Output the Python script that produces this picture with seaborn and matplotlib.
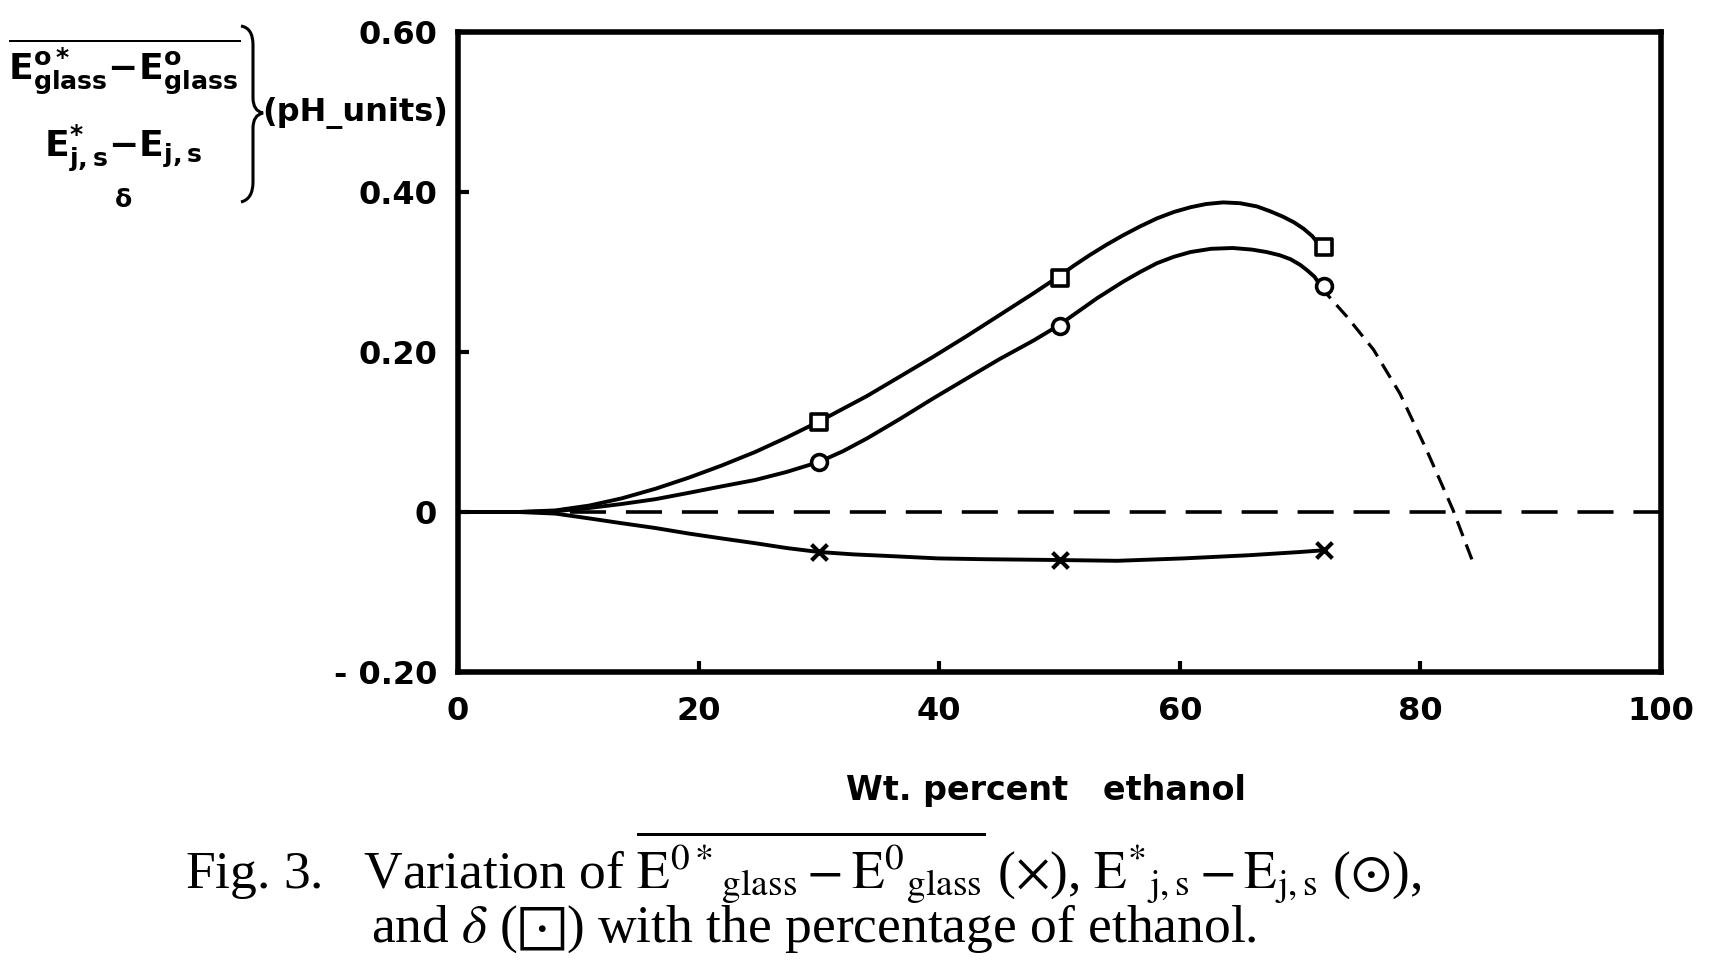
import matplotlib
matplotlib.use("Agg")
import matplotlib.pyplot as plt
import seaborn as sns
from matplotlib.path import Path
from matplotlib.patches import PathPatch

# ---------------- data ----------------
wt_points = [30, 50, 72]
delta_pts = [0.113, 0.292, 0.331]
ejs_pts = [0.062, 0.232, 0.282]
eglass_pts = [-0.050, -0.060, -0.048]

delta_curve_x = [0, 5, 8.1, 10.9, 13.6, 16.4, 19.2, 21.9, 24.7, 27.3, 30, 32, 34, 36.7,
                 39.5, 42.3, 45, 47.8, 49.8, 51.2, 52.5, 53.9, 55.3, 56.7, 58.1, 59.5,
                 60.9, 62.2, 63.6, 65.0, 66.4, 67.5, 68.6, 69.5, 70.3, 71.0, 71.65]
delta_curve_y = [0, 0, 0.002, 0.008, 0.017, 0.029, 0.043, 0.058, 0.075, 0.093, 0.113,
                 0.129, 0.145, 0.169, 0.194, 0.220, 0.246, 0.273, 0.293, 0.308, 0.321,
                 0.334, 0.346, 0.357, 0.367, 0.375, 0.381, 0.385, 0.387, 0.386, 0.382,
                 0.376, 0.369, 0.362, 0.354, 0.345, 0.333]
ejs_curve_x = [0, 5, 8.1, 10.9, 13.6, 16.4, 19.2, 21.9, 24.7, 27.3, 30, 32, 34, 36.7,
               39.5, 42.3, 45, 47.8, 49.8, 51.5, 53.1, 55.3, 56.7, 58.1, 59.5, 60.9,
               62.6, 64.4, 66.0, 67.2, 68.3, 69.2, 70.0, 70.6, 71.2, 71.65]
ejs_curve_y = [0, 0, 0.001, 0.005, 0.010, 0.016, 0.024, 0.032, 0.040, 0.050, 0.0625,
               0.076, 0.092, 0.116, 0.142, 0.167, 0.191, 0.214, 0.232, 0.250, 0.267,
               0.288, 0.300, 0.311, 0.319, 0.325, 0.329, 0.330, 0.328, 0.325, 0.321,
               0.316, 0.309, 0.302, 0.294, 0.284]
ejs_ext_x = [71.65, 73.9, 76.1, 78.3, 80.5, 82.7, 84.5]
ejs_ext_y = [0.282, 0.244, 0.203, 0.148, 0.078, 0.003, -0.068]
eglass_curve_x = [0, 5, 8.1, 10.9, 13.6, 16.4, 19.2, 21.9, 24.7, 27.3, 30, 32.9, 35.8,
                  39.9, 43.7, 49.8, 54.8, 60.3, 65.8, 70.0, 71.8]
eglass_curve_y = [0, 0, -0.002, -0.008, -0.014, -0.020, -0.027, -0.033, -0.039,
                  -0.045, -0.050, -0.053, -0.055, -0.058, -0.059, -0.060, -0.061,
                  -0.058, -0.054, -0.050, -0.048]
zero_x = [0, 100]
zero_y = [0, 0]

x_ticks = [0, 20, 40, 60, 80, 100]
x_ticklabels = ["0", "20", "40", "60", "80", "100"]
y_ticks = [-0.2, 0, 0.2, 0.4, 0.6]
y_ticklabels = ["- 0.20", "0", "0.20", "0.40", "0.60"]

# ---------------- figure ----------------
sns.set_style("ticks")
plt.rcParams["font.family"] = ["DejaVu Sans"]

W, H = 1710, 966
fig = plt.figure(figsize=(W / 100, H / 100), dpi=100)
ax = fig.add_axes([458 / W, 1 - 672 / H, (1661 - 458) / W, (672 - 32) / H])

LW = 2.8
sns.lineplot(x=zero_x, y=zero_y, ax=ax, color="black", lw=2.6,
             linestyle=(0, (10, 5.5)), estimator=None, sort=False, zorder=2)
sns.lineplot(x=delta_curve_x, y=delta_curve_y, ax=ax, color="black", lw=LW,
             estimator=None, sort=False, zorder=3)
sns.lineplot(x=ejs_curve_x, y=ejs_curve_y, ax=ax, color="black", lw=LW,
             estimator=None, sort=False, zorder=3)
sns.lineplot(x=ejs_ext_x, y=ejs_ext_y, ax=ax, color="black", lw=2.3,
             linestyle=(0, (5, 2.8)), estimator=None, sort=False, zorder=3)
sns.lineplot(x=eglass_curve_x, y=eglass_curve_y, ax=ax, color="black", lw=LW,
             estimator=None, sort=False, zorder=3)

sns.scatterplot(x=wt_points, y=delta_pts, ax=ax, marker="s", s=120,
                facecolor="white", edgecolor="black", linewidth=2.6, zorder=5)
sns.scatterplot(x=wt_points, y=ejs_pts, ax=ax, marker="o", s=130,
                facecolor="white", edgecolor="black", linewidth=2.6, zorder=5)
sns.scatterplot(x=wt_points, y=eglass_pts, ax=ax, marker="x", s=130,
                color="black", linewidth=3.0, zorder=5)

ax.set_xlim(0, 100)
ax.set_ylim(-0.2, 0.6)
ax.set_xticks(x_ticks)
ax.set_xticklabels(x_ticklabels, fontweight="bold")
ax.set_yticks(y_ticks)
ax.set_yticklabels(y_ticklabels, fontweight="bold")
for sp in ax.spines.values():
    sp.set_linewidth(4)
    sp.set_color("black")
ax.tick_params(axis="both", direction="in", length=8, width=3, labelsize=23,
               top=False, right=False, colors="black")
ax.tick_params(axis="x", pad=17)
ax.tick_params(axis="y", pad=15)
ax.set_xlabel("Wt. percent   ethanol", fontsize=24, labelpad=34, fontweight="bold",
              color="black")
ax.xaxis.label.set_x(0.489)
ax.set_ylabel("")


def fx(px):
    return px / W


def fy(py):
    return 1 - py / H


# ---------------- y-axis label block (top-left) ----------------
lab_kw = dict(family="DejaVu Sans", math_fontfamily="dejavusans", color="black")
fig.text(fx(8), fy(67),
         r"$\overline{\mathbf{E}^{\mathbf{o*}}_{\mathbf{glass}}\mathbf{-}"
         r"\mathbf{E}^{\mathbf{o}}_{\mathbf{glass}}}$",
         fontsize=26, ha="left", va="center", **lab_kw)
fig.text(fx(44), fy(148),
         r"$\mathbf{E}^{\mathbf{*}}_{\mathbf{j,s}}\mathbf{-}\mathbf{E}_{\mathbf{j,s}}$",
         fontsize=26, ha="left", va="center", **lab_kw)
fig.text(fx(123), fy(200), "δ", fontsize=18, weight="bold", ha="center", va="center",
         **lab_kw)
fig.text(fx(262), fy(113), "(pH_units)", fontsize=23, weight="bold", ha="left",
         va="center", **lab_kw)

brace_pts = [(241, 26), (253, 28), (253, 45), (253, 98), (253, 111), (263, 113),
             (253, 115), (253, 128), (253, 182), (253, 199), (241, 202)]
codes = [Path.MOVETO, Path.CURVE3, Path.CURVE3, Path.LINETO, Path.CURVE3, Path.CURVE3,
         Path.CURVE3, Path.CURVE3, Path.LINETO, Path.CURVE3, Path.CURVE3]
brace = Path([(fx(a), fy(b)) for a, b in brace_pts], codes)
fig.patches.append(PathPatch(brace, transform=fig.transFigure, fill=False,
                             lw=2.2, edgecolor="black"))

# ---------------- caption ----------------
cap_kw = dict(family="Liberation Serif", math_fontfamily="stix", color="black")
line1 = (r"Fig. 3.   Variation of "
         r"$\overline{\mathrm{E}^{0*}{}_{\mathrm{glass}}-\mathrm{E}^{0}{}_{\mathrm{glass}}}$"
         r" ($\times$), $\mathrm{E}^{*}{}_{\mathrm{j,s}}-\mathrm{E}_{\mathrm{j,s}}$ ($\odot$),")
line2 = r"and $\delta$ ($\boxdot$) with the percentage of ethanol."
fig.text(fx(185), fy(889), line1, fontsize=38.5, ha="left", va="baseline", **cap_kw)
fig.text(fx(371), fy(942), line2, fontsize=38.5, ha="left", va="baseline", **cap_kw)

fig.savefig("out.png", dpi=100, facecolor="white")
